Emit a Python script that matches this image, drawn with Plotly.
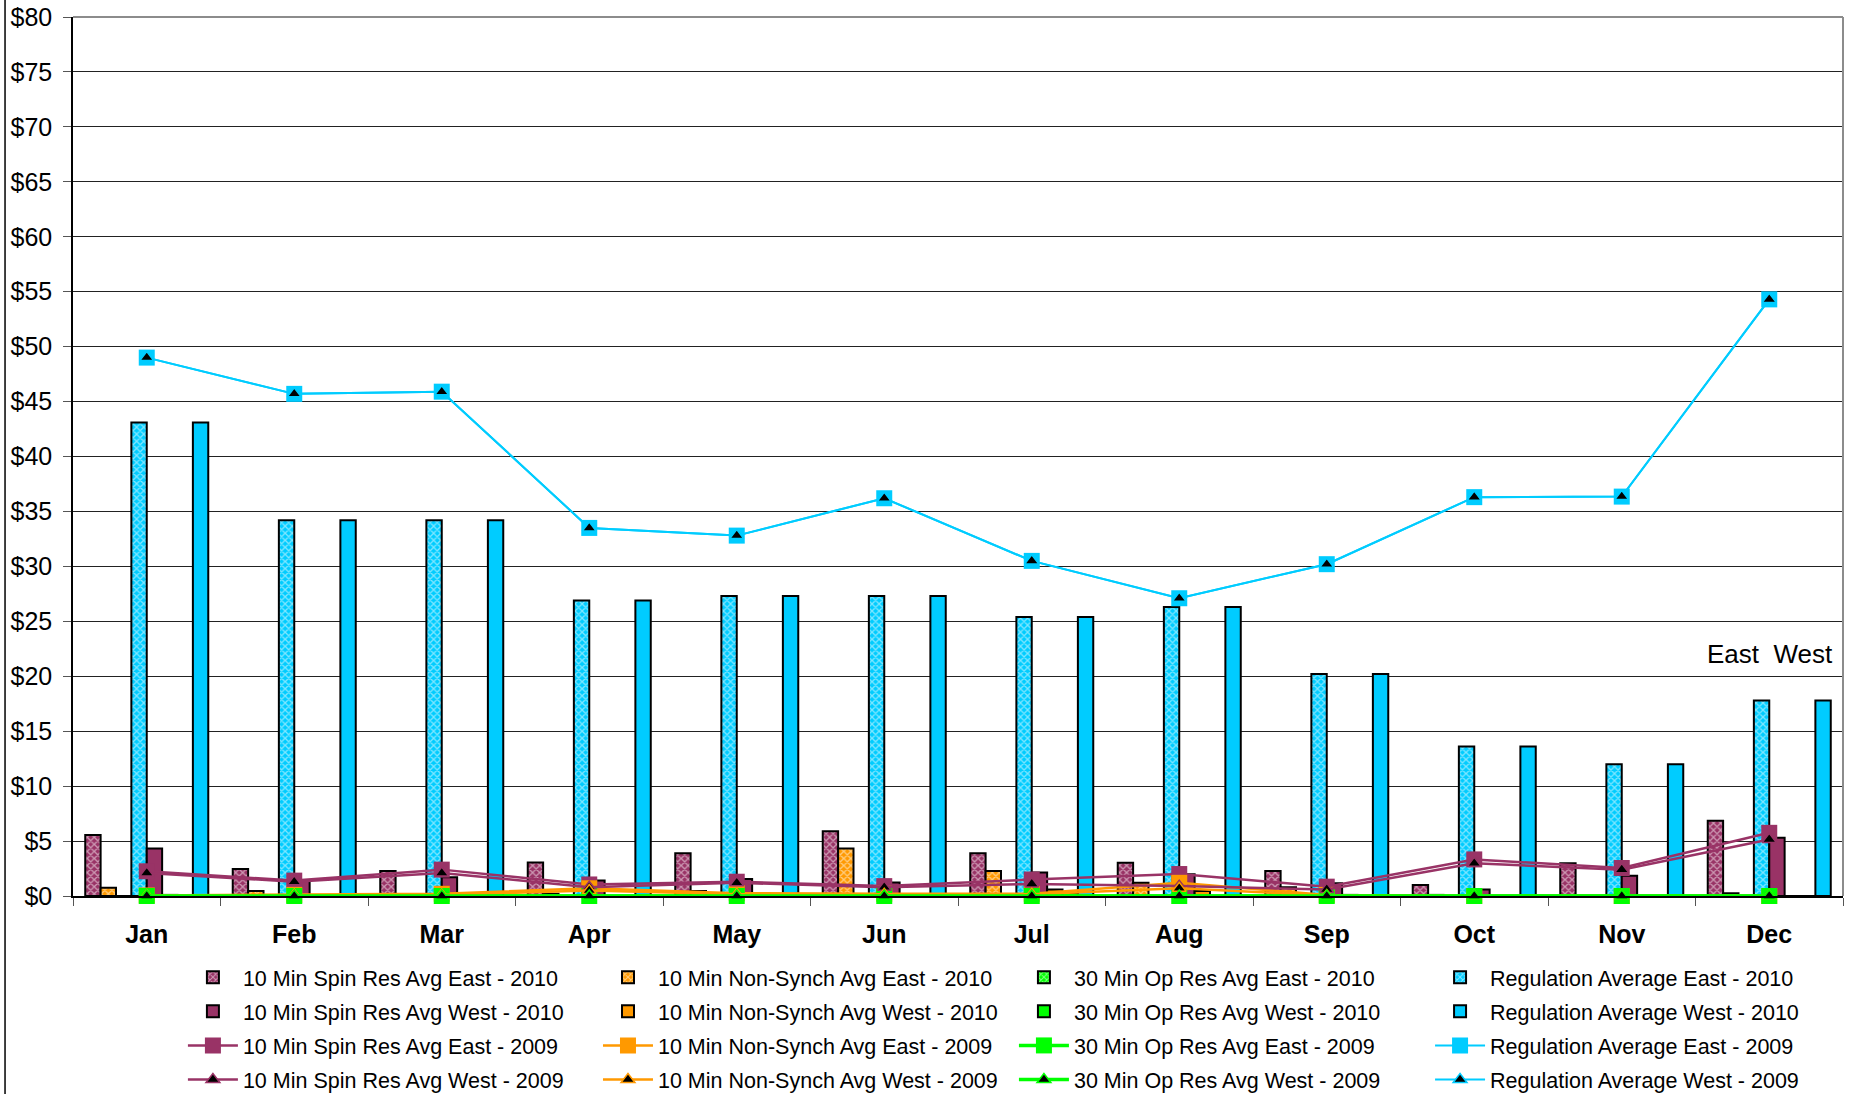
import plotly.graph_objects as go

# ---- data -------------------------------------------------------------
months = ["Jan", "Feb", "Mar", "Apr", "May", "Jun",
          "Jul", "Aug", "Sep", "Oct", "Nov", "Dec"]

# 2010 monthly averages ($/MWh), East and West
spin_east_2010 = [5.55, 2.45, 2.27, 3.06, 3.88, 5.9, 3.88, 3.03, 2.27, 1.0, 2.97, 6.85]
nonsynch_east_2010 = [0.76, 0.45, 0.1, 0.2, 0.45, 4.33, 2.27, 1.2, 0.8, 0.1, 0.0, 0.25]
op30_east_2010 = [0.0] * 12
reg_east_2010 = [43.1, 34.2, 34.2, 26.9, 27.3, 27.3, 25.4, 26.3, 20.2, 13.6, 12.0, 17.8]

spin_west_2010 = [4.33, 1.4, 1.7, 1.4, 1.55, 1.24, 2.15, 1.97, 1.15, 0.6, 1.85, 5.3]
nonsynch_west_2010 = [0.1, 0.0, 0.0, 0.0, 0.0, 0.1, 0.6, 0.45, 0.1, 0.0, 0.0, 0.0]
op30_west_2010 = [0.0, 0.0, 0.0, 0.0, 0.0, 0.0, 0.3, 0.0, 0.0, 0.0, 0.0, 0.0]
reg_west_2010 = [43.1, 34.2, 34.2, 26.9, 27.3, 27.3, 25.4, 26.3, 20.2, 13.6, 12.0, 17.8]

# 2009 monthly averages
spin_east_2009 = [2.25, 1.4, 2.4, 1.05, 1.3, 0.9, 1.5, 2.0, 0.85, 3.33, 2.55, 5.75]
nonsynch_east_2009 = [0.05, 0.1, 0.2, 0.7, 0.25, 0.2, 0.2, 1.2, 0.1, 0.0, 0.0, 0.0]
op30_east_2009 = [0.0] * 12
reg_east_2009 = [49.0, 45.7, 45.9, 33.5, 32.8, 36.2, 30.5, 27.1, 30.2, 36.3, 36.35, 54.3]

spin_west_2009 = [2.1, 1.3, 2.1, 0.8, 1.2, 0.8, 1.1, 0.9, 0.6, 2.97, 2.4, 5.15]
nonsynch_west_2009 = [0.05, 0.1, 0.1, 0.5, 0.15, 0.15, 0.15, 0.7, 0.05, 0.0, 0.0, 0.0]
op30_west_2009 = [0.0] * 12
reg_west_2009 = [49.0, 45.7, 45.9, 33.5, 32.8, 36.2, 30.5, 27.1, 30.2, 36.3, 36.35, 54.3]

y_ticks = list(range(0, 85, 5))
y_tick_labels = [f"${v}" for v in y_ticks]

# ---- styling ----------------------------------------------------------
SPIN = "#993366"
NONSYNCH = "#FF9900"
OP30 = "#00FF00"
REG = "#00CCFF"
FONT = "Arial, Liberation Sans, sans-serif"

# one legend column per product
LEG_SPIN, LEG_NS, LEG_OP30, LEG_REG = "legend", "legend2", "legend3", "legend4"

fig = go.Figure()


def east_bar(name, values, color, leg):
    return go.Bar(
        name=name, x=months, y=values, legend=leg, legendgroup=name,
        marker=dict(
            color=color,
            line=dict(color="black", width=2),
            pattern=dict(shape="x", fgcolor="white", bgcolor=color,
                         size=5, solidity=0.45, fillmode="overlay"),
        ),
    )


def west_bar(name, values, color, leg):
    return go.Bar(
        name=name, x=months, y=values, legend=leg, legendgroup=name,
        marker=dict(color=color, line=dict(color="black", width=2)),
    )


def east_line(name, values, color, leg, width=2.5):
    return go.Scatter(
        name=name, x=months, y=values, mode="lines+markers",
        legend=leg, legendgroup=name, cliponaxis=False,
        line=dict(color=color, width=width),
        marker=dict(symbol="square", size=16, color=color),
    )


def west_line(name, values, color, leg, width=2.5):
    return go.Scatter(
        name=name, x=months, y=values, mode="lines+markers",
        legend=leg, legendgroup=name, cliponaxis=False,
        line=dict(color=color, width=width),
        marker=dict(symbol="triangle-up", size=12, color="black",
                    line=dict(color=color, width=1.5)),
    )


# 2010 bars: group order is East (4 products) then West (4 products)
fig.add_trace(east_bar("10 Min Spin Res Avg East - 2010", spin_east_2010, SPIN, LEG_SPIN))
fig.add_trace(east_bar("10 Min Non-Synch Avg East - 2010", nonsynch_east_2010, NONSYNCH, LEG_NS))
fig.add_trace(east_bar("30 Min Op Res Avg East - 2010", op30_east_2010, OP30, LEG_OP30))
fig.add_trace(east_bar("Regulation Average East - 2010", reg_east_2010, REG, LEG_REG))
fig.add_trace(west_bar("10 Min Spin Res Avg West - 2010", spin_west_2010, SPIN, LEG_SPIN))
fig.add_trace(west_bar("10 Min Non-Synch Avg West - 2010", nonsynch_west_2010, NONSYNCH, LEG_NS))
fig.add_trace(west_bar("30 Min Op Res Avg West - 2010", op30_west_2010, OP30, LEG_OP30))
fig.add_trace(west_bar("Regulation Average West - 2010", reg_west_2010, REG, LEG_REG))

# 2009 lines
fig.add_trace(east_line("10 Min Spin Res Avg East - 2009", spin_east_2009, SPIN, LEG_SPIN))
fig.add_trace(east_line("10 Min Non-Synch Avg East - 2009", nonsynch_east_2009, NONSYNCH, LEG_NS))
fig.add_trace(east_line("30 Min Op Res Avg East - 2009", op30_east_2009, OP30, LEG_OP30, width=3.5))
fig.add_trace(east_line("Regulation Average East - 2009", reg_east_2009, REG, LEG_REG, width=2))
fig.add_trace(west_line("10 Min Spin Res Avg West - 2009", spin_west_2009, SPIN, LEG_SPIN))
fig.add_trace(west_line("10 Min Non-Synch Avg West - 2009", nonsynch_west_2009, NONSYNCH, LEG_NS))
fig.add_trace(west_line("30 Min Op Res Avg West - 2009", op30_west_2009, OP30, LEG_OP30, width=3.5))
fig.add_trace(west_line("Regulation Average West - 2009", reg_west_2009, REG, LEG_REG, width=2))


def legend_column(x):
    return dict(
        orientation="v", x=x, y=-0.069, xanchor="left", yanchor="top",
        font=dict(size=21.5, family=FONT, color="black"), itemwidth=50,
        traceorder="grouped", tracegroupgap=3.2, bgcolor="rgba(0,0,0,0)",
        borderwidth=0,
    )


fig.update_layout(
    width=1865, height=1094,
    margin=dict(l=73, r=22, t=17, b=198, autoexpand=False),
    paper_bgcolor="white", plot_bgcolor="white",
    font=dict(family=FONT, color="black"),
    barmode="group", bargap=0.166, bargroupgap=0,
    showlegend=True,
    legend=legend_column(0.0621),
    legend2=legend_column(0.2966),
    legend3=legend_column(0.5316),
    legend4=legend_column(0.7667),
    xaxis=dict(
        type="category", range=[-0.5, len(months) - 0.5], showgrid=False,
        showline=True, linecolor="black", linewidth=1.5, ticks="outside",
        tickson="boundaries", ticklen=8, tickcolor="#555",
        tickfont=dict(size=25, family=FONT, weight="bold"),
        ticklabelstandoff=15,
    ),
    yaxis=dict(
        range=[0, 80], tickmode="array", tickvals=y_ticks, ticktext=y_tick_labels,
        showgrid=True, gridcolor="#222", gridwidth=1, showline=True,
        linecolor="black", linewidth=1.5, ticks="outside", ticklen=8,
        tickcolor="#555", tickfont=dict(size=25, family=FONT), zeroline=False,
        ticklabelstandoff=6,
    ),
    annotations=[
        dict(text="East  West", xref="paper", yref="paper", x=0.9955, y=0.275,
             xanchor="right", yanchor="middle", showarrow=False,
             font=dict(size=26, family=FONT, color="black")),
    ],
    shapes=[
        # top and right frame of the plotting area
        dict(type="line", xref="paper", yref="paper", x0=0, x1=1, y0=1, y1=1,
             line=dict(color="#8c8c8c", width=2)),
        dict(type="line", xref="paper", yref="paper", x0=1, x1=1, y0=0, y1=1,
             line=dict(color="#8c8c8c", width=2)),
        # left edge of the chart border
        dict(type="line", xref="paper", yref="paper", x0=-0.0384, x1=-0.0384,
             y0=-0.3, y1=1.1, line=dict(color="black", width=1.5)),
    ],
)

fig.write_html("out.html")
